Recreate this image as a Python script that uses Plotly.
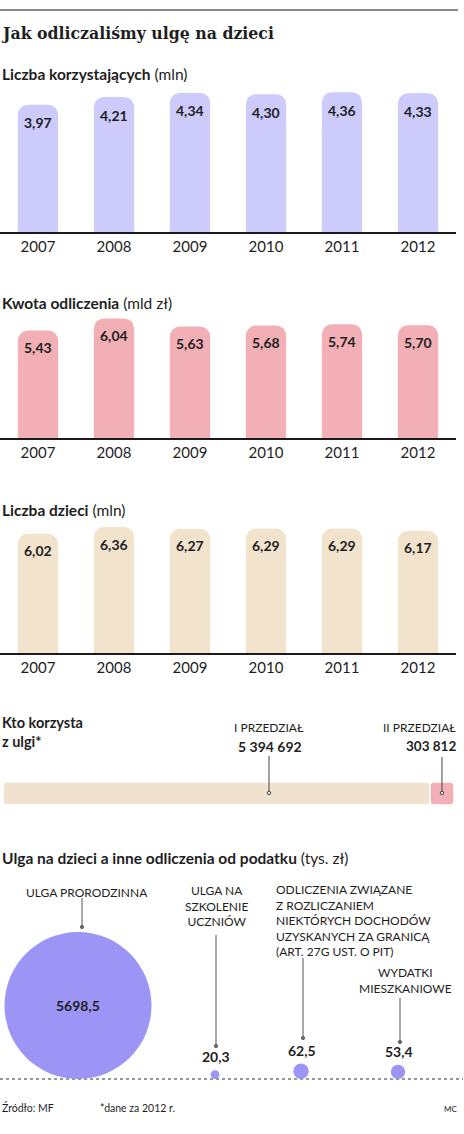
import math
import plotly.graph_objects as go

W, H = 464, 1134

# ---------------- data ----------------
years = ["2007", "2008", "2009", "2010", "2011", "2012"]
beneficiaries = [3.97, 4.21, 4.34, 4.30, 4.36, 4.33]      # mln
deduction_amount = [5.43, 6.04, 5.63, 5.68, 5.74, 5.70]   # mld zł
children = [6.02, 6.36, 6.27, 6.29, 6.29, 6.17]           # mln

bracket_names = ["I PRZEDZIAŁ", "II PRZEDZIAŁ"]
bracket_values = [5394692, 303812]

relief_labels = [
    "ULGA PRORODZINNA",
    "ULGA NA<br>SZKOLENIE<br>UCZNIÓW",
    "ODLICZENIA ZWIĄZANE<br>Z ROZLICZANIEM<br>NIEKTÓRYCH DOCHODÓW<br>UZYSKANYCH ZA GRANICĄ<br>(ART. 27G UST. O PIT)",
    "WYDATKI<br>MIESZKANIOWE",
]
relief_values = [5698.5, 20.3, 62.5, 53.4]                # tys. zł

# ---------------- layout helpers ----------------
SANS = "Lato, 'Open Sans', sans-serif"
SERIF = "'DejaVu Serif Condensed', 'Liberation Serif', serif"
INK = "#1e1e1e"
LPAD = -3   # compensates the annotation box padding for left-aligned texts
RPAD = 3


def fy(p):
    return 1 - p / H


def fx(p):
    return p / W


def fmt_dec(v, n):
    return f"{v:.{n}f}".replace(".", ",")


def fmt_int(v):
    return f"{v:,}".replace(",", " ")


fig = go.Figure()
annotations = []
shapes = []
layout_axes = {}

# top rule
shapes.append(dict(type="line", xref="paper", yref="paper", x0=0, x1=fx(458),
                   y0=fy(10), y1=fy(10), line=dict(color="#8a8a8a", width=2)))
annotations.append(dict(xref="paper", yref="paper", x=fx(2), y=fy(33), xanchor="left",
                        yanchor="middle", showarrow=False, xshift=LPAD,
                        text="<b>Jak odliczaliśmy ulgę na dzieci</b>",
                        font=dict(family=SERIF, size=17.5, color=INK)))

# ---------------- three bar charts ----------------
panels = [
    dict(vals=beneficiaries, color="#cccbfb", scale=32.05, base=232, sub_y=74,
         title="<b>Liczba korzystających</b> (mln)", shift=-18),
    dict(vals=deduction_amount, color="#f2afb5", scale=19.8, base=438, sub_y=303,
         title="<b>Kwota odliczenia</b> (mld zł)", shift=-17),
    dict(vals=children, color="#f2e3cd", scale=19.8, base=653, sub_y=510,
         title="<b>Liczba dzieci</b> (mln)", shift=-17),
]
PH = 150
idx = list(range(len(years)))
for i, p in enumerate(panels, start=1):
    sfx = "" if i == 1 else str(i)
    xa, ya = "x" + sfx, "y" + sfx
    fig.add_trace(go.Bar(x=idx, y=p["vals"], xaxis=xa, yaxis=ya,
                         marker=dict(color=p["color"], cornerradius=10, line=dict(width=0)),
                         width=0.53, hoverinfo="skip", showlegend=False))
    layout_axes["xaxis" + sfx] = dict(domain=[0, fx(456)], anchor=ya, type="linear",
                                      range=[-0.5, len(years) - 0.5],
                                      tickmode="array", tickvals=idx, ticktext=years,
                                      showline=True, linecolor="#1a1a1a", linewidth=2,
                                      ticks="", showgrid=False, zeroline=False,
                                      tickfont=dict(family=SANS, size=15, color=INK),
                                      automargin=False, fixedrange=True)
    layout_axes["yaxis" + sfx] = dict(domain=[fy(p["base"]), fy(p["base"] - PH)], anchor=xa,
                                      range=[0, PH / p["scale"]], visible=False,
                                      automargin=False, fixedrange=True)
    for k, v in zip(idx, p["vals"]):
        annotations.append(dict(x=k, y=v, xref=xa, yref=ya, yshift=p["shift"], showarrow=False,
                                text=f"<b>{fmt_dec(v, 2)}</b>",
                                font=dict(family=SANS, size=14, color=INK)))
    annotations.append(dict(xref="paper", yref="paper", x=fx(3), y=fy(p["sub_y"]),
                            xanchor="left", yanchor="middle", showarrow=False, xshift=LPAD,
                            text=p["title"], font=dict(family=SANS, size=15.5, color=INK)))

# ---------------- "Kto korzysta z ulgi" ----------------
total = sum(bracket_values)
bar_colors = ["#f1e2cf", "#f3afb6"]
start = 0
for name, v, c in zip(bracket_names, bracket_values, bar_colors):
    fig.add_trace(go.Bar(orientation="h", y=[0], x=[v], base=[start], width=1,
                         xaxis="x4", yaxis="y4",
                         marker=dict(color=c, cornerradius=4, line=dict(color="white", width=1.5)),
                         hoverinfo="skip", showlegend=False))
    start += v
layout_axes["xaxis4"] = dict(domain=[fx(3), fx(454)], anchor="y4", range=[0, total],
                             visible=False, automargin=False, fixedrange=True)
layout_axes["yaxis4"] = dict(domain=[fy(805), fy(782)], anchor="x4", range=[-0.5, 0.5],
                             visible=False, automargin=False, fixedrange=True)

annotations.append(dict(xref="paper", yref="paper", x=fx(3), y=fy(732), xanchor="left",
                        yanchor="middle", align="left", showarrow=False, xshift=LPAD,
                        text="<b>Kto korzysta<br>z ulgi*</b>",
                        font=dict(family=SANS, size=14.5, color=INK)))
# I bracket label & leader
annotations.append(dict(xref="paper", yref="paper", x=fx(269), y=fy(727), showarrow=False,
                        text=bracket_names[0], font=dict(family=SANS, size=12, color=INK)))
annotations.append(dict(xref="paper", yref="paper", x=fx(270), y=fy(746), showarrow=False,
                        text=f"<b>{fmt_int(bracket_values[0])}</b>",
                        font=dict(family=SANS, size=14, color=INK)))
shapes.append(dict(type="line", xref="paper", yref="paper", x0=fx(269), x1=fx(269),
                   y0=fy(756), y1=fy(792), line=dict(color="#444", width=1)))
shapes.append(dict(type="circle", xref="paper", yref="paper", x0=fx(267.3), x1=fx(270.7),
                   y0=fy(791.3), y1=fy(794.7), line=dict(color="#444", width=1), fillcolor="white"))
# II bracket label & leader (at middle of II bar)
mid2 = bracket_values[0] + bracket_values[1] / 2
annotations.append(dict(xref="paper", yref="paper", x=fx(455), y=fy(727), xanchor="right",
                        showarrow=False, xshift=RPAD, text=bracket_names[1],
                        font=dict(family=SANS, size=12, color=INK)))
annotations.append(dict(xref="paper", yref="paper", x=fx(455), y=fy(746), xanchor="right",
                        showarrow=False, xshift=RPAD, text=f"<b>{fmt_int(bracket_values[1])}</b>",
                        font=dict(family=SANS, size=13.5, color=INK)))
shapes.append(dict(type="line", xref="x4", yref="paper", x0=mid2, x1=mid2,
                   y0=fy(757), y1=fy(792), line=dict(color="#444", width=1)))
shapes.append(dict(type="circle", xref="x4", yref="paper", xsizemode="pixel", xanchor=mid2,
                   x0=-1.7, x1=1.7, y0=fy(791.3), y1=fy(794.7),
                   line=dict(color="#444", width=1), fillcolor="white"))

# ---------------- bubbles ----------------
annotations.append(dict(xref="paper", yref="paper", x=fx(3), y=fy(858), xanchor="left",
                        yanchor="middle", showarrow=False, xshift=LPAD,
                        text="<b>Ulga na dzieci a inne odliczenia od podatku</b> (tys. zł)",
                        font=dict(family=SANS, size=15.5, color=INK)))

bubble_x = [78, 215, 301, 398]          # horizontal layout positions (px)
DMAX = 147                              # diameter of largest bubble (px)
vmax = max(relief_values)
sizeref = 2 * vmax / DMAX ** 2
radii = [(DMAX / 2) * math.sqrt(v / vmax) for v in relief_values]
BASE = 1079
fig.add_trace(go.Scatter(x=bubble_x, y=radii, xaxis="x5", yaxis="y5", mode="markers",
                         marker=dict(size=relief_values, sizemode="area", sizeref=sizeref,
                                     color="#9c95f6", line=dict(width=0), opacity=1),
                         hoverinfo="skip", showlegend=False, cliponaxis=False))
layout_axes["xaxis5"] = dict(domain=[0, 1], anchor="y5", range=[0, W], visible=False,
                             automargin=False, fixedrange=True)
layout_axes["yaxis5"] = dict(domain=[fy(BASE), fy(BASE - 200)], anchor="x5", range=[0, 200],
                             visible=False, automargin=False, fixedrange=True)

for k, (xv, r, v) in enumerate(zip(bubble_x, radii, relief_values)):
    if k == 0:
        annotations.append(dict(x=xv, y=r, xref="x5", yref="y5", showarrow=False,
                                text=f"<b>{fmt_dec(v, 1)}</b>",
                                font=dict(family=SANS, size=14, color=INK)))
    else:
        annotations.append(dict(x=xv + 1, y=2 * r, xref="x5", yref="y5", showarrow=False,
                                yanchor="bottom", yshift=3, text=f"<b>{fmt_dec(v, 1)}</b>",
                                font=dict(family=SANS, size=14, color=INK)))

# category labels & leaders
label_pos = [
    dict(x=87, y=892, anchor="center"),
    dict(x=216, y=906, anchor="center"),
    dict(x=277, y=920.5, anchor="left"),
    dict(x=405, y=980, anchor="center"),
]
leaders = [(82, 898, 927), (216, 935, 1046), (303, 958, 1038), (400, 998, 1042)]
for lab, pos in zip(relief_labels, label_pos):
    annotations.append(dict(xref="paper", yref="paper", x=fx(pos["x"]), y=fy(pos["y"]),
                            xanchor=pos["anchor"], yanchor="middle",
                            xshift=LPAD if pos["anchor"] == "left" else 0,
                            align="left" if pos["anchor"] == "left" else "center",
                            showarrow=False, text=lab,
                            font=dict(family=SANS, size=12, color=INK)))
for (lx, ly0, ly1) in leaders:
    shapes.append(dict(type="line", xref="paper", yref="paper", x0=fx(lx), x1=fx(lx),
                       y0=fy(ly0), y1=fy(ly1), line=dict(color="#555", width=1)))
    shapes.append(dict(type="circle", xref="paper", yref="paper", x0=fx(lx - 1.6),
                       x1=fx(lx + 1.6), y0=fy(ly1 - 1.6), y1=fy(ly1 + 1.6),
                       line=dict(color="#555", width=1), fillcolor="#777"))

# dotted base line
shapes.append(dict(type="line", xref="paper", yref="paper", x0=0, x1=fx(463),
                   y0=fy(BASE), y1=fy(BASE), line=dict(color="#777", width=1.5, dash="dot"),
                   layer="below"))

# ---------------- footer ----------------
annotations.append(dict(xref="paper", yref="paper", x=fx(3), y=fy(1116), xanchor="left",
                        showarrow=False, xshift=LPAD, text="Źródło: MF",
                        font=dict(family=SANS, size=10.5, color=INK)))
annotations.append(dict(xref="paper", yref="paper", x=fx(101), y=fy(1116), xanchor="left",
                        showarrow=False, xshift=LPAD, text="*dane za 2012 r.",
                        font=dict(family=SANS, size=10.5, color=INK)))
annotations.append(dict(xref="paper", yref="paper", x=fx(456), y=fy(1116), xanchor="right",
                        showarrow=False, xshift=RPAD, text="MC",
                        font=dict(family=SANS, size=8, color=INK)))

fig.update_layout(
    width=W, height=H, margin=dict(l=0, r=0, t=0, b=0, autoexpand=False),
    paper_bgcolor="white", plot_bgcolor="rgba(0,0,0,0)",
    barmode="overlay", showlegend=False,
    annotations=annotations, shapes=shapes,
    **layout_axes,
)

fig.write_html("out.html", config={"displayModeBar": False, "staticPlot": True})
